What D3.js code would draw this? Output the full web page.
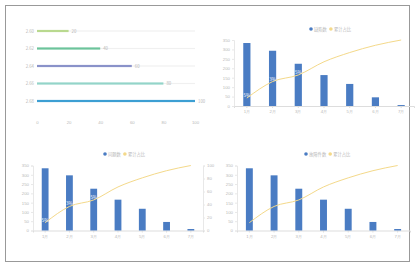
<!DOCTYPE html>
<html lang="zh">
<head>
<meta charset="utf-8">
<title>Pareto dashboard</title>
<script src="https://cdn.jsdelivr.net/npm/d3@7"></script>
<style>
  body {margin: 0; background: #fff; font-family: "Noto Sans CJK SC", "Noto Sans", sans-serif;}
  svg {display: block;}
  .tick text {fill: #b8b8b8; font-size: 4.3px;}
  .lbl {fill: #b8b8b8; font-size: 4.3px;}
</style>
</head>
<body>
<script>
// ---- data ----
var progCats = ["2.60", "2.62", "2.64", "2.66", "2.68"];
var progVals = [20, 40, 60, 80, 100];
var progColors = ["#b9d98f", "#6cc39b", "#8a92c9", "#93d4c9", "#3d9fd3"];
var progTicks = [0, 20, 40, 60, 80, 100];

var paretoCats = ["1月", "2月", "3月", "4月", "5月", "6月", "7月"];
var countA = [334, 293, 224, 164, 117, 46, 5];
var countB = [335, 297, 225, 166, 117, 46, 8];
var countC = [335, 297, 225, 166, 117, 46, 8];
var cumPct = [12, 37, 47, 67, 81, 92, 100];
var pctLabels = ["5%", "3%", "5%"];
var legendNames = ["缺陷数", "问题数", "故障件数"];
var cumName = "累计占比";

var W = 417, H = 267;
var svg = d3.select("body").append("svg").attr("width", W).attr("height", H);

// outer frame
svg.append("rect")
  .attr("x", 5.5).attr("y", 5.5)
  .attr("width", 404).attr("height", 256)
  .attr("fill", "none").attr("stroke", "#999");

// ---- progress bars (top-left) ----
var px = d3.scaleLinear().domain([0, 100]).range([37, 195]);
var py = d3.scalePoint().domain(progCats).range([31, 101]);
var g1 = svg.append("g");

g1.selectAll(".track").data(progCats).enter().append("rect")
  .attr("x", px(0)).attr("y", function(d) { return py(d) - 0.6; })
  .attr("width", px(100) - px(0)).attr("height", 1.2)
  .attr("fill", "#f0f0f0");

g1.selectAll(".bar").data(progVals).enter().append("rect")
  .attr("x", px(0))
  .attr("y", function(d, i) { return py(progCats[i]) - 1.1; })
  .attr("width", function(d) { return px(d) - px(0); })
  .attr("height", 2.2)
  .attr("fill", function(d, i) { return progColors[i]; });

g1.selectAll(".cat").data(progCats).enter().append("text")
  .attr("class", "lbl")
  .attr("x", px(0) - 3).attr("y", function(d) { return py(d) + 1.5; })
  .attr("text-anchor", "end").text(function(d) { return d; });

g1.selectAll(".val").data(progVals).enter().append("text")
  .attr("class", "lbl")
  .attr("x", function(d) { return px(d) + 3; })
  .attr("y", function(d, i) { return py(progCats[i]) + 1.5; })
  .text(function(d) { return d; });

g1.append("g").attr("transform", "translate(0,118)")
  .call(d3.axisBottom(px).tickValues(progTicks).tickSize(0))
  .call(function(g) { g.select(".domain").remove(); });

// ---- pareto charts ----
function pareto(opt) {
  var g = svg.append("g");
  var x = d3.scaleBand().domain(paretoCats)
    .range([opt.x0, opt.x1]).paddingInner(0.72).paddingOuter(0.36);
  var y = d3.scaleLinear().domain([0, 350]).range([opt.yb, opt.yt]);
  var y2 = d3.scaleLinear().domain([0, 100]).range([opt.yb, opt.yt]);

  // left axis
  g.append("g").attr("transform", "translate(" + opt.x0 + ",0)")
    .call(d3.axisLeft(y).ticks(7).tickSize(2).tickPadding(2))
    .call(function(a) {
      a.select(".domain").attr("stroke", "#e8e8e8");
      a.selectAll(".tick line").attr("stroke", "#e8e8e8");
    });

  // right axis
  if (opt.right) {
    g.append("g").attr("transform", "translate(" + opt.x1 + ",0)")
      .call(d3.axisRight(y2).ticks(5).tickSize(2).tickPadding(2))
      .call(function(a) {
        a.select(".domain").attr("stroke", "#e8e8e8");
        a.selectAll(".tick line").attr("stroke", "#e8e8e8");
      });
  }

  // bottom axis
  g.append("g").attr("transform", "translate(0," + opt.yb + ")")
    .call(d3.axisBottom(x).tickSize(2).tickPadding(2))
    .call(function(a) {
      a.select(".domain").attr("stroke", "#dddddd");
      a.selectAll(".tick line").attr("stroke", "#dddddd");
    });

  g.selectAll(".b").data(opt.values).enter().append("rect")
    .attr("x", function(d, i) { return x(paretoCats[i]); })
    .attr("y", function(d) { return y(d); })
    .attr("width", x.bandwidth())
    .attr("height", function(d) { return opt.yb - y(d); })
    .attr("fill", "#4a7cc3");

  var line = d3.line()
    .x(function(d, i) { return x(paretoCats[i]) + x.bandwidth() / 2; })
    .y(function(d) { return y2(d); })
    .curve(d3.curveMonotoneX);

  g.append("path").datum(cumPct)
    .attr("d", line)
    .attr("fill", "none")
    .attr("stroke", "#f4d98a")
    .attr("stroke-width", 1);

  if (opt.labels) {
    g.selectAll(".pl").data(pctLabels).enter().append("text")
      .attr("x", function(d, i) { return x(paretoCats[i]) + x.bandwidth() / 2; })
      .attr("y", function(d, i) { return y2(cumPct[i]) - 1; })
      .attr("text-anchor", "middle")
      .attr("font-size", "4.5px")
      .attr("fill", "#fff")
      .text(function(d) { return d; });
  }

  // legend
  var lg = g.append("g").attr("transform", "translate(" + opt.lx + "," + opt.ly + ")");
  lg.append("circle").attr("cx", 0).attr("cy", 0).attr("r", 1.8).attr("fill", "#4a7cc3");
  var t1 = lg.append("text").attr("class", "lbl").attr("x", 3).attr("y", 1.6).text(opt.name);
  var w1 = t1.node().getComputedTextLength();
  lg.append("circle").attr("cx", w1 + 7).attr("cy", 0).attr("r", 1.8).attr("fill", "#f4d98a");
  lg.append("text").attr("class", "lbl").attr("x", w1 + 10).attr("y", 1.6).text(cumName);
}

pareto({x0: 234, x1: 414, yt: 40, yb: 106, values: countA, name: legendNames[0],
        lx: 311, ly: 29, labels: true, right: false});
pareto({x0: 33, x1: 203, yt: 165.5, yb: 230.5, values: countB, name: legendNames[1],
        lx: 105, ly: 154, labels: true, right: true});
pareto({x0: 237, x1: 410, yt: 165.5, yb: 230.5, values: countC, name: legendNames[2],
        lx: 306, ly: 154, labels: false, right: false});
</script>
</body>
</html>
